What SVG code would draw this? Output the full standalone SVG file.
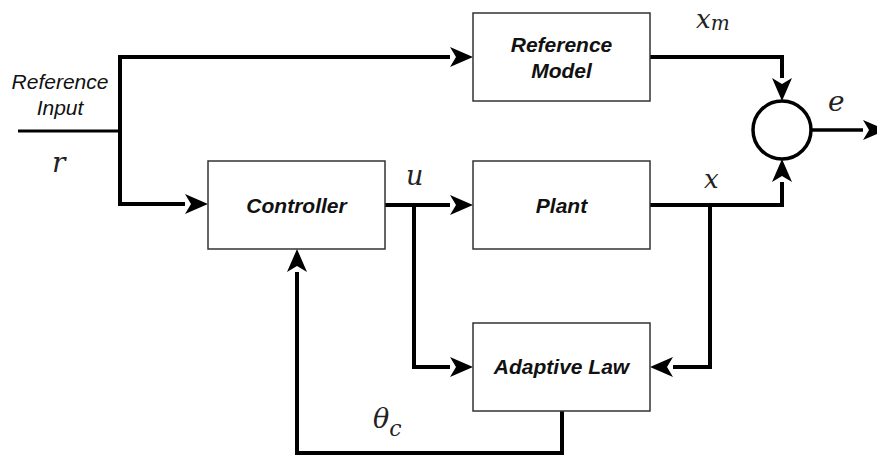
<svg xmlns="http://www.w3.org/2000/svg" width="877" height="457" viewBox="0 0 877 457">
<defs>
<marker id="ah" markerUnits="userSpaceOnUse" markerWidth="40" markerHeight="40" refX="0" refY="0" orient="auto" overflow="visible">
<path d="M23,0 L0,-10 L6,0 L0,10 Z" fill="#000"/>
</marker>
<style>
.box{fill:#fff;stroke:#333;stroke-width:1.5}
.lbl{font-family:"Liberation Sans",Arial,sans-serif;font-weight:bold;font-style:italic;font-size:21px;fill:#111;text-anchor:middle}
.in{font-family:"Liberation Sans",Arial,sans-serif;font-style:italic;font-size:21px;fill:#111;text-anchor:middle}
.m{font-family:"DejaVu Serif","Liberation Serif",serif;font-style:italic;fill:#222}
.w{fill:none;stroke:#000;stroke-width:4;stroke-linejoin:miter}
</style>
</defs>
<g id="connectors">
<path class="w" d="M18,131 H120" style="stroke-width:3"/>
<path class="w" d="M120,131 V57 H450" marker-end="url(#ah)"/>
<path class="w" d="M120,131 V204 H185" marker-end="url(#ah)"/>
<path class="w" d="M385,205 H450" marker-end="url(#ah)"/>
<path class="w" d="M414,205 V367 H450" marker-end="url(#ah)"/>
<path class="w" d="M650,57 H782 V78" marker-end="url(#ah)"/>
<path class="w" d="M650,205 H782 V182" marker-end="url(#ah)"/>
<path class="w" d="M710,205 V367 H673" marker-end="url(#ah)"/>
<path class="w" d="M562,411 V453 H297 V272" marker-end="url(#ah)"/>
<path class="w" d="M811,130 H863" style="stroke-width:3.5" marker-end="url(#ah)"/>
</g>
<g id="reference-model">
<rect class="box" x="473" y="13" width="177" height="88"/>
<text class="lbl" x="561.5" y="52">Reference</text>
<text class="lbl" x="561.5" y="78">Model</text>
</g>
<g id="controller">
<rect class="box" x="208" y="161" width="177" height="88"/>
<text class="lbl" x="296.5" y="213">Controller</text>
</g>
<g id="plant">
<rect class="box" x="473" y="161" width="177" height="88"/>
<text class="lbl" x="561.5" y="213">Plant</text>
</g>
<g id="adaptive-law">
<rect class="box" x="473" y="323" width="177" height="88"/>
<text class="lbl" x="561.5" y="374">Adaptive Law</text>
</g>
<g id="sum">
<circle cx="782" cy="130" r="29" fill="#fff" stroke="#000" stroke-width="3.5"/>
</g>
<g id="labels">
<text class="in" x="60" y="89">Reference</text>
<text class="in" x="60" y="115">Input</text>
<text class="m" x="52" y="172" font-size="28">r</text>
<text class="m" x="696" y="28" font-size="26">x<tspan font-size="20" dy="2">m</tspan></text>
<text class="m" x="406" y="185" font-size="27">u</text>
<text class="m" x="704" y="188" font-size="26">x</text>
<text class="m" x="828" y="111" font-size="28">e</text>
<text class="m" x="373" y="428" font-size="27">θ<tspan font-size="22" dy="8">c</tspan></text>
</g>
</svg>
